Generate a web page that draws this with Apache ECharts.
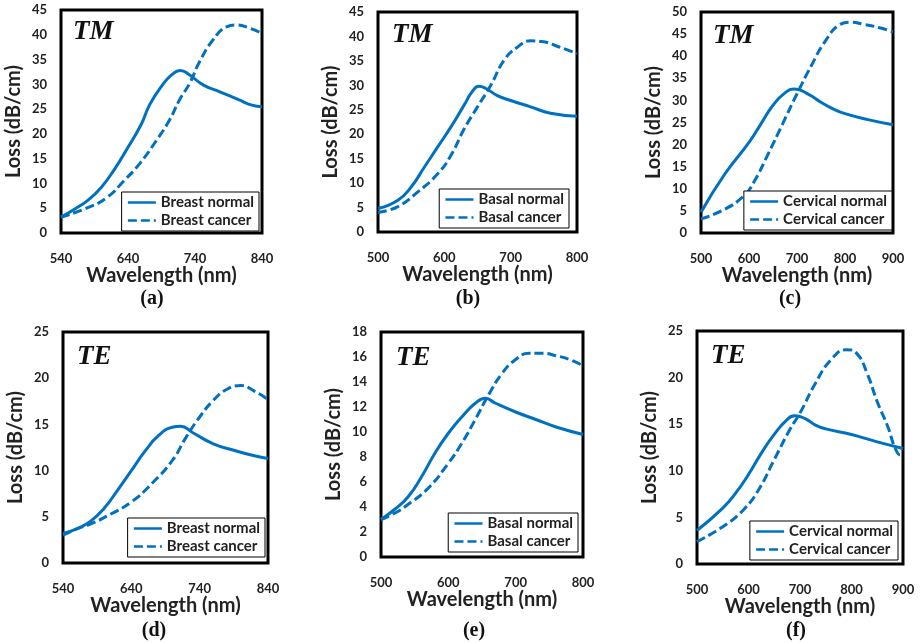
<!DOCTYPE html>
<html>
<head>
<meta charset="utf-8">
<script src="https://cdn.jsdelivr.net/npm/echarts@6/dist/echarts.min.js"></script>
<style>html,body{margin:0;padding:0;background:#fff;}#c{width:920px;height:643px;}</style>
</head>
<body>
<div id="c"></div>
<script>
// (a) TM breast
const wlA_normal = [540,560,580,600,620,640,660,672,690,705,718,732,752,777,805,825,840];
const lossA_normal = [3.2,4.8,6.6,9.2,12.9,17.3,22.0,25.8,29.6,31.9,32.8,31.9,29.9,28.5,26.9,25.8,25.5];
const wlA_cancer = [540,578,608,633,658,683,702,717,732,747,767,787,802,822,840];
const lossA_cancer = [3.2,5.0,7.1,10.4,14.1,18.8,22.8,26.9,30.2,34.6,39.0,41.6,42.0,41.3,40.3];
// (b) TM basal
const wlB_normal = [500,530,550,570,590,610,630,642,652,662,680,700,730,760,800];
const lossB_normal = [4.8,6.5,9.2,13.3,17.4,21.5,26.0,28.7,29.8,29.4,27.9,26.9,25.6,24.3,23.7];
const wlB_cancer = [500,530,560,590,610,630,650,670,690,710,730,750,770,800];
const lossB_cancer = [4.0,5.2,8.2,11.9,15.7,21.1,25.6,30.0,35.1,37.8,39.1,38.9,38.0,36.5];
// (c) TM cervical
const wlC_normal = [500,550,600,625,650,675,695,725,750,775,800,850,900];
const lossC_normal = [4.7,13.4,20.5,24.7,28.9,31.7,32.6,31.3,29.6,28.1,27.0,25.6,24.5];
const wlC_cancer = [500,550,590,610,640,670,700,730,760,790,810,840,870,900];
const lossC_cancer = [3.2,5.4,8.5,11.5,17.9,24.7,31.5,37.9,43.6,47.2,47.7,47.2,46.5,45.5];
// (d) TE breast
const wlD_normal = [540,560,580,600,620,640,660,680,700,712,730,760,790,820,840];
const lossD_normal = [3.2,3.7,4.5,5.9,7.9,10.0,12.1,13.8,14.7,14.8,14.1,12.9,12.2,11.6,11.3];
const wlD_cancer = [540,560,580,610,640,670,700,720,740,760,780,800,820,840];
const lossD_cancer = [3.0,3.7,4.2,5.3,6.6,8.6,11.1,13.6,15.8,17.6,18.8,19.2,18.6,17.7];
// (e) TE basal
const wlE_normal = [500,520,540,560,580,600,620,640,655,670,700,730,760,800];
const lossE_normal = [3.0,3.8,4.8,6.4,8.3,9.9,11.2,12.3,12.7,12.3,11.6,11.0,10.4,9.8];
const wlE_cancer = [500,520,540,570,600,620,640,660,680,700,720,740,760,780,800];
const lossE_cancer = [3.0,3.5,4.2,5.5,7.5,9.1,11.0,13.0,14.7,15.8,16.3,16.3,16.1,15.8,15.3];
// (f) TE cervical
const wlF_normal = [500,550,575,600,625,650,675,690,710,730,750,800,850,900];
const lossF_normal = [3.6,6.0,7.6,9.6,11.9,13.9,15.5,15.9,15.6,14.9,14.5,13.9,13.1,12.4];
const wlF_cancer = [500,550,590,620,650,680,700,730,760,790,810,830,850,870,885,895,900];
const lossF_cancer = [2.4,4.0,5.8,8.0,11.2,14.4,16.2,19.4,21.9,23.0,22.6,20.5,17.4,14.8,12.4,11.7,11.9];

const xMin = [540,500,500,540,500,500];
const xMax = [840,800,900,840,800,900];
const yMax = [45,45,50,25,18,25];
const yStep = [5,5,5,5,2,5];
const modeLabels = ['TM','TM','TM','TE','TE','TE'];
const tissue = ['Breast','Basal','Cervical','Breast','Basal','Cervical'];
const captions = ['(a)','(b)','(c)','(d)','(e)','(f)'];

const normals = [[wlA_normal,lossA_normal],[wlB_normal,lossB_normal],[wlC_normal,lossC_normal],[wlD_normal,lossD_normal],[wlE_normal,lossE_normal],[wlF_normal,lossF_normal]];
const cancers = [[wlA_cancer,lossA_cancer],[wlB_cancer,lossB_cancer],[wlC_cancer,lossC_cancer],[wlD_cancer,lossD_cancer],[wlE_cancer,lossE_cancer],[wlF_cancer,lossF_cancer]];

// layout
const gridPos = [
  {left:61, top:10, width:201, height:223},
  {left:378, top:12, width:199, height:220},
  {left:701, top:12, width:192, height:221},
  {left:63, top:332, width:205, height:231},
  {left:381, top:332, width:202, height:225},
  {left:697, top:331, width:206, height:233}
];
const legendPos = [
  {right:661, bottom:412},{right:351, bottom:415},{right:28, bottom:413},
  {right:655, bottom:86},{right:342, bottom:91},{right:22, bottom:83}
];
const modePos = [[73,32],[392,35],[713,36],[77,357],[396,358],[711,356]];
const capPos = [[152,299],[468,299],[790,299],[154,631],[474,631],[796,631]];

const BLUE = '#0070C0';
const FONT = 'Lato';
const zip = (xs, ys) => xs.map((x, i) => [x, ys[i]]);

const grid = [], xAxis = [], yAxis = [], series = [], legend = [], graphic = [];
for (let i = 0; i < 6; i++) {
  grid.push(Object.assign({show:true, borderColor:'#000', borderWidth:3, containLabel:false}, gridPos[i]));
  const mn = xMin[i];
  xAxis.push({
    type:'value', gridIndex:i, min:mn, max:xMax[i], interval:20,
    name:'Wavelength (nm)', nameLocation:'middle', nameGap:32,
    nameTextStyle:{fontFamily:FONT, fontWeight:'bold', fontSize:20, color:'#222'},
    axisLine:{show:false}, axisTick:{show:false}, splitLine:{show:false},
    axisLabel:{margin:19, fontFamily:FONT, fontWeight:'bold', fontSize:13, color:'#222',
      showMinLabel:true, showMaxLabel:true,
      formatter: v => ((Math.round(v) - mn) % 100 === 0 ? String(Math.round(v)) : '')}
  });
  yAxis.push({
    type:'value', gridIndex:i, min:0, max:yMax[i], interval:yStep[i],
    name:'Loss (dB/cm)', nameLocation:'middle', nameGap:37,
    nameTextStyle:{fontFamily:FONT, fontWeight:'bold', fontSize:20, color:'#222'},
    axisLine:{show:false}, axisTick:{show:false}, splitLine:{show:false},
    axisLabel:{margin:14, fontFamily:FONT, fontWeight:'bold', fontSize:13, color:'#222'}
  });
  const nName = tissue[i] + ' normal', cName = tissue[i] + ' cancer';
  series.push({
    type:'line', name:nName, xAxisIndex:i, yAxisIndex:i, data:zip(normals[i][0], normals[i][1]),
    symbol:'none', smooth:0.5, lineStyle:{color:BLUE, width:3}, itemStyle:{color:BLUE}
  });
  series.push({
    type:'line', name:cName, xAxisIndex:i, yAxisIndex:i, data:zip(cancers[i][0], cancers[i][1]),
    symbol:'none', smooth:0.5, lineStyle:{color:BLUE, width:3, type:[9,4]}, itemStyle:{color:BLUE}
  });
  legend.push(Object.assign({
    data:[nName, cName], orient:'vertical', itemWidth:28, itemHeight:14, itemGap:3,
    padding:[3,5,3,5], borderColor:'#000', borderWidth:1, backgroundColor:'#fff',
    selectedMode:false,
    itemStyle:{opacity:0},
    lineStyle:{width:2.5},
    textStyle:{fontFamily:FONT, fontWeight:'bold', fontSize:15, color:'#222'}
  }, legendPos[i]));
  graphic.push({
    type:'text', x:modePos[i][0], y:modePos[i][1], z:100,
    style:{text:modeLabels[i], font:'italic bold 27px "Liberation Serif"', fill:'#111',
      align:'left', verticalAlign:'middle', textAlign:'left', textVerticalAlign:'middle'}
  });
  graphic.push({
    type:'text', x:capPos[i][0], y:capPos[i][1], z:100,
    style:{text:captions[i], font:'bold 20px "Liberation Serif"', fill:'#111',
      align:'center', verticalAlign:'middle', textAlign:'center', textVerticalAlign:'middle'}
  });
}

const chart = echarts.init(document.getElementById('c'), null, {renderer:'canvas'});
chart.setOption({animation:false, backgroundColor:'#fff', grid, xAxis, yAxis, series, legend, graphic});
</script>
</body>
</html>
